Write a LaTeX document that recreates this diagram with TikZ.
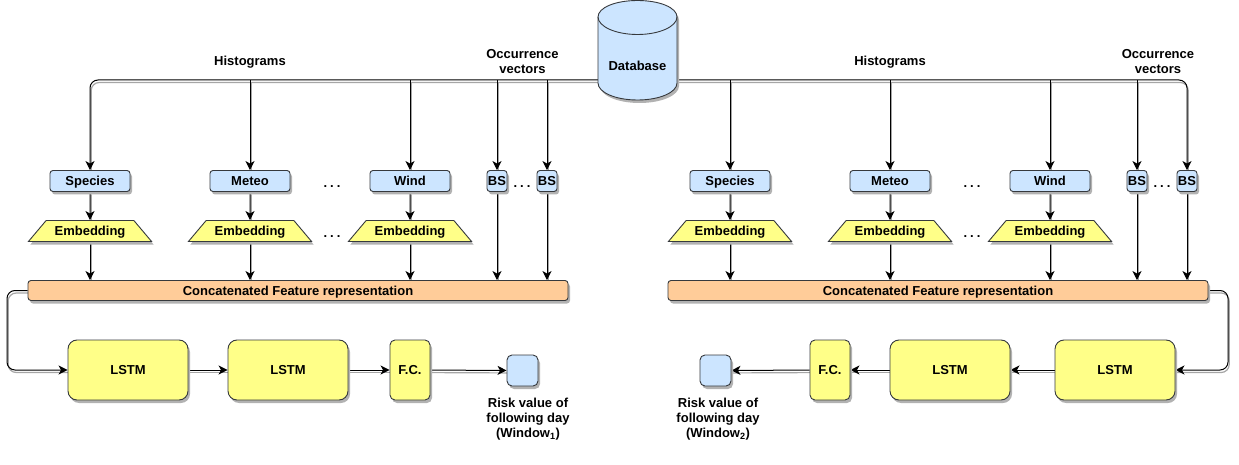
\documentclass[tikz,border=0pt]{standalone}
\usepackage{fontspec}
\setmainfont{Liberation Sans}
\usetikzlibrary{shapes.geometric,shadows,arrows.meta,backgrounds}
\definecolor{blueF}{HTML}{CCE5FF}
\definecolor{yellowF}{HTML}{FFFF88}
\definecolor{orangeF}{HTML}{FFCC99}
\definecolor{edgeC}{HTML}{36393D}
\newcommand{\mydots}{.\hspace{3pt}.\hspace{3pt}.}
\tikzset{
  every node/.style={font=\bfseries\fontsize{13}{15}\selectfont,text=black},
  tx/.style={text height=10.5pt,text depth=1.5pt},
  sh/.style={drop shadow={shadow xshift=2pt,shadow yshift=-3pt,fill=black!30,opacity=1}},
  boxbase/.style={draw=edgeC,line width=0.9pt,rounded corners=#1,sh,inner sep=0pt,tx},
  feat/.style={boxbase=3pt,fill=blueF,minimum width=80pt,minimum height=21pt},
  bsbox/.style={boxbase=3pt,fill=blueF,minimum width=20pt,minimum height=21pt},
  embed/.style={trapezium,trapezium stretches=true,trapezium left angle=40,trapezium right angle=40,
    draw=edgeC,line width=0.9pt,fill=yellowF,sh,inner sep=0pt,minimum width=124pt,minimum height=21pt,tx},
  concat/.style={boxbase=3pt,fill=orangeF,minimum width=540pt,minimum height=20pt},
  lstm/.style={boxbase=9pt,fill=yellowF,minimum width=120pt,minimum height=60pt},
  fc/.style={boxbase=5pt,fill=yellowF,minimum width=40pt,minimum height=60pt},
  risk/.style={boxbase=5pt,fill=blueF,minimum width=31pt,minimum height=31pt},
  lbl/.style={align=center,inner sep=0pt},
  conn/.style={draw=black,line width=1pt,
    preaction={draw=black!35,line width=1.2pt,-,transform canvas={shift={(1.2pt,-2.5pt)}}}},
  arr/.style={conn,-{Stealth[length=9pt,width=9pt,inset=2.5pt]}},
}
\begin{document}
\begin{tikzpicture}[x=1pt,y=-1pt]
\useasboundingbox (0,0) rectangle (1239,465);
% database
\path[draw=edgeC,line width=0.9pt,fill=blueF,sh]
  (598,17) .. controls (598,7.6) and (615.4,0.5) .. (637.5,0.5)
           .. controls (659.6,0.5) and (677,7.6) .. (677,17)
  -- (677,83) .. controls (677,92.4) and (659.6,100) .. (637.5,100)
              .. controls (615.4,100) and (598,92.4) .. (598,83) -- cycle;
\path[draw=edgeC,line width=0.9pt]
  (598,17) .. controls (598,26.4) and (615.4,34.5) .. (637.5,34.5)
           .. controls (659.6,34.5) and (677,26.4) .. (677,17);
\node[lbl,tx] (db) at (637.5,66) {Database};
\coordinate (dbL) at (598,80);
\coordinate (dbR) at (677,80);
\foreach \s/\o in {a/0,b/640}{
  \node[feat] (\s1) at (\o+90,181) {Species};
  \node[feat] (\s2) at (\o+250,181) {Meteo};
  \node[feat] (\s3) at (\o+410,181) {Wind};
  \node[bsbox] (\s4) at (\o+497,181) {BS};
  \node[bsbox] (\s5) at (\o+547,181) {BS};
  \node[embed] (\s e1) at (\o+90,231) {Embedding};
  \node[embed] (\s e2) at (\o+250,231) {Embedding};
  \node[embed] (\s e3) at (\o+410,231) {Embedding};
  \node[lbl,tx] (\s d1) at (\o+332,183) {\mydots};
  \node[lbl,tx] (\s d2) at (\o+332,233) {\mydots};
  \node[lbl,tx] (\s d3) at (\o+522,183) {\mydots};
  \node[lbl,tx] (\s h) at (\o+250,61) {Histograms};
  \node[concat] (\s c) at (\o+298,290.5) {Concatenated Feature representation};
}
\node[lbl] (oa) at (522.5,61.5) {Occurrence\\vectors};
\node[lbl] (ob) at (1158,61.5) {Occurrence\\vectors};
% bottom left
\node[lstm] (l1) at (128,370) {LSTM};
\node[lstm] (l2) at (288,370) {LSTM};
\node[fc] (f1) at (410,370) {F.C.};
\node[risk] (r1) at (522.5,370.5) {};
\node[lbl] (rt1) at (528,419) {Risk value of\\following day\\(Window\textsubscript{1})};
\coordinate (ta) at (7,330);
% bottom right
\node[lstm] (l3) at (1115,370) {LSTM};
\node[lstm] (l4) at (950,370) {LSTM};
\node[fc] (f2) at (830,370) {F.C.};
\node[risk] (r2) at (715.5,370.5) {};
\node[lbl] (rt2) at (718,419) {Risk value of\\following day\\(Window\textsubscript{2})};
\coordinate (tb) at (1228,330);
\begin{pgfonlayer}{background}
  \draw[arr,rounded corners=8pt] (dbL) -| (a1.north);
  \draw[arr,rounded corners=8pt] (dbR) -| (b5.north);
  \foreach \n in {2,3,4,5} \draw[arr] (a\n.north |- dbL) -- (a\n.north);
  \foreach \n in {1,2,3,4} \draw[arr] (b\n.north |- dbL) -- (b\n.north);
  \foreach \s in {a,b}{
    \foreach \n in {1,2,3}{
      \draw[arr] (\s\n.south) -- (\s e\n.north);
      \draw[arr] (\s e\n.south) -- (\s e\n.south |- \s c.north);
    }
    \foreach \n in {4,5} \draw[arr] (\s\n.south) -- (\s\n.south |- \s c.north);
  }
  \draw[arr,rounded corners=8pt] (ac.west) -| (ta) |- (l1.west);
  \draw[arr,rounded corners=8pt] (bc.east) -| (tb) |- (l3.east);
  \draw[arr] (l1) -- (l2);
  \draw[arr] (l2) -- (f1);
  \draw[arr] (f1) -- (r1);
  \draw[arr] (l3) -- (l4);
  \draw[arr] (l4) -- (f2);
  \draw[arr] (f2) -- (r2);
\end{pgfonlayer}
\end{tikzpicture}
\end{document}
